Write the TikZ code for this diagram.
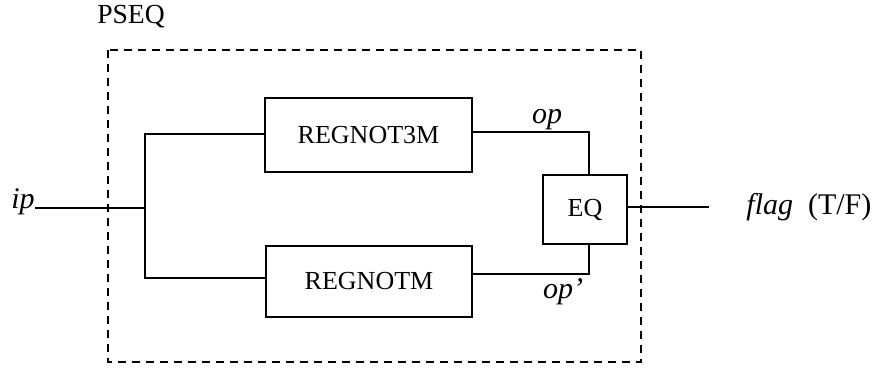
\documentclass[tikz,border=0pt]{standalone}
\usepackage{fontspec}
\setmainfont{Liberation Serif}
\begin{document}
\begin{tikzpicture}[x=0.5pt,y=-0.5pt,
  blk/.style={draw,line width=1.2pt,inner sep=0pt,font=\fontsize{13}{15}\selectfont},
  wire/.style={line width=1.2pt},
  lbl/.style={inner sep=0pt,font=\fontsize{15}{17}\selectfont}]
\useasboundingbox (0,0) rectangle (876,369);
\draw[line width=1.1pt,dash pattern=on 4pt off 3pt] (108,50) rectangle (641,362);
\node[lbl,font=\fontsize{13.8}{15}\selectfont] (pseq) at (131,17) {PSEQ};
\node[blk,minimum width=103.5pt,minimum height=37pt] (r3) at (368.5,135) {REGNOT3M};
\node[blk,minimum width=103pt,minimum height=35.5pt] (r1) at (369,281.5) {REGNOTM};
\node[blk,minimum width=42pt,minimum height=34.5pt] (eq) at (585,209.5) {EQ};
\node[lbl,anchor=base east] (ip) at (35,208) {\textit{ip}};
\coordinate (j) at (145,208);
\coordinate (jt) at (145,134);
\coordinate (jb) at (145,278);
\coordinate (out) at (709,207);
\coordinate (ot) at (589,132);
\coordinate (ob) at (589,274);
\draw[wire] (ip.base east) -- (j);
\draw[wire] (r3.west |- jt) -- (jt) -- (jb) -- (r1.west |- jb);
\draw[wire] (r3.east |- ot) -- (ot) -- (ot |- eq.north);
\draw[wire] (r1.east |- ob) -- (ob) -- (ob |- eq.south);
\draw[wire] (eq.east |- out) -- (out);
\node[lbl,anchor=base] (op) at (547,123) {\textit{op}};
\node[lbl,anchor=base] (opp) at (563,298) {\textit{op'}};
\node[lbl,anchor=west] (flag) at (746,207) {\textit{flag}\ \ (T/F)};
\end{tikzpicture}
\end{document}
